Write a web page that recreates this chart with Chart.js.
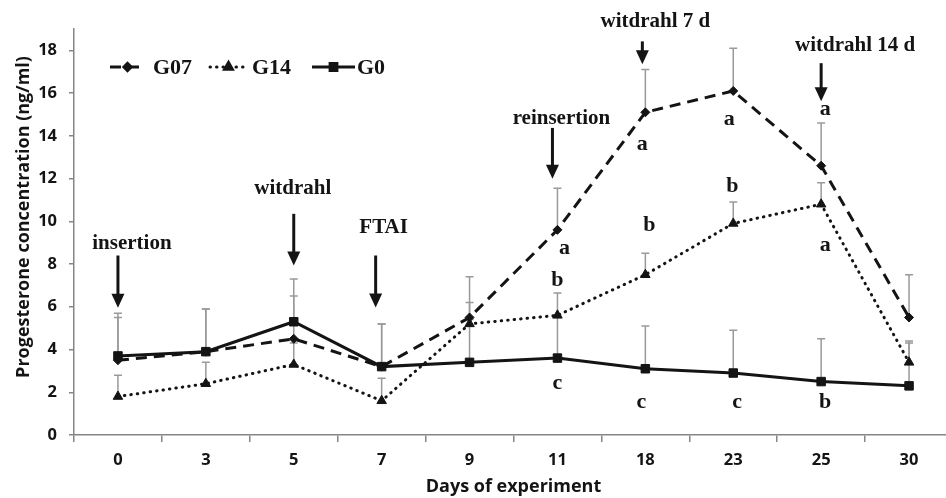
<!DOCTYPE html>
<html>
<head>
<meta charset="utf-8">
<script src="https://cdn.jsdelivr.net/npm/chart.js@4/dist/chart.umd.min.js"></script>
<style>
html,body{margin:0;padding:0;background:#fff;overflow:hidden;}
#wrap{width:960px;height:498px;position:relative;}
</style>
</head>
<body>
<div id="wrap"><canvas id="c" width="960" height="498"></canvas></div>
<script>
// ---- data ----
const days = ['0','3','5','7','9','11','18','23','25','30'];
const g07 = [3.5, 3.9, 4.5, 3.2, 5.5, 9.6, 15.1, 16.1, 12.6, 5.5];
const g07Err = [2.0, 2.0, 2.0, 2.0, 1.9, 1.95, 2.0, 2.0, 2.0, 2.0];
const g14 = [1.8, 2.4, 3.3, 1.6, 5.2, 5.6, 7.5, 9.9, 10.8, 3.4];
const g14Err = [1.0, 1.0, 1.0, 1.05, 1.0, 1.05, 1.0, 1.0, 1.0, 1.0];
const g0 = [3.7, 3.9, 5.3, 3.2, 3.4, 3.6, 3.1, 2.9, 2.5, 2.3];
const g0Err = [2.0, 2.0, 2.0, 2.0, 2.0, 2.0, 2.0, 2.0, 2.0, 2.0];
const seriesNames = ['G07', 'G14', 'G0'];
const yTicks = [0, 2, 4, 6, 8, 10, 12, 14, 16, 18];
const yTitle = 'Progesterone concentration (ng/ml)';
const xTitle = 'Days of experiment';

// event annotations: text, day, arrow top value, arrow tip value, text value
const eventText = ['insertion', 'witdrahl', 'FTAI', 'reinsertion', 'witdrahl 7 d', 'witdrahl 14 d'];
const eventDay = ['0', '5', '7', '11', '18', '25'];
const eventArrowTop = [8.4, 10.35, 8.4, 14.37, 18.42, 17.4];
const eventArrowTip = [5.95, 7.93, 5.97, 11.99, 17.35, 15.62];
const eventTextY = [8.96, 11.52, 9.7, 14.79, 19.36, 18.24];

// significance letters
const letterText = ['a', 'b', 'c', 'a', 'b', 'c', 'a', 'b', 'c', 'a', 'a', 'b'];
const letterDay = ['11', '11', '11', '18', '18', '18', '23', '23', '23', '25', '25', '25'];
const letterY = [8.72, 7.23, 2.43, 13.62, 9.79, 1.54, 14.79, 11.66, 1.54, 15.25, 8.86, 1.54];

// ---- styling (pixel tweaks) ----
const eventArrowDx = [0, 0, -6, -5, -3, 0];
const eventTextDx = [14, -1, 2, 4, 10, 34];
const letterDx = [7, 0, 0, -3, 4, -4, -4, -1, 4, 4, 4, 4];
const legendSampleX = [36, 136, 238];
const legendSampleW = [35, 37, 43];
const legendTextGap = [8, 5, 2];

const INK = '#141414';
const serif = '"Liberation Serif", "Times New Roman", serif';
const sans = '"Open Sans", "Noto Sans", sans-serif';

const errBars = {
  id: 'errBars',
  beforeDatasetsDraw(chart) {
    const ctx = chart.ctx, ys = chart.scales.y;
    const errs = [g07Err, g14Err, g0Err];
    ctx.save();
    ctx.strokeStyle = '#9a9a9a';
    ctx.lineWidth = 1.5;
    chart.data.datasets.forEach((ds, i) => {
      const meta = chart.getDatasetMeta(i);
      meta.data.forEach((pt, j) => {
        const top = ys.getPixelForValue(ds.data[j] + errs[i][j]);
        ctx.beginPath();
        ctx.moveTo(pt.x, pt.y);
        ctx.lineTo(pt.x, top);
        ctx.moveTo(pt.x - 4, top);
        ctx.lineTo(pt.x + 4, top);
        ctx.stroke();
      });
    });
    ctx.restore();
  }
};

const annot = {
  id: 'annot',
  afterDatasetsDraw(chart) {
    const ctx = chart.ctx, xs = chart.scales.x, ys = chart.scales.y;
    const ca = chart.chartArea;
    ctx.save();
    ctx.fillStyle = INK;
    ctx.strokeStyle = INK;
    ctx.textAlign = 'center';
    ctx.textBaseline = 'middle';
    // y axis title
    ctx.save();
    ctx.font = 'bold 18px ' + sans;
    ctx.translate(ca.left - 50, ca.top + (ca.bottom - ca.top) * 0.463);
    ctx.rotate(-Math.PI / 2);
    ctx.fillText(yTitle, 0, 0);
    ctx.restore();

    ctx.font = 'bold 21px ' + serif;
    eventText.forEach((t, i) => {
      const cx = xs.getPixelForValue(days.indexOf(eventDay[i]));
      const ax = cx + eventArrowDx[i];
      const yTop = ys.getPixelForValue(eventArrowTop[i]);
      const yTip = ys.getPixelForValue(eventArrowTip[i]);
      ctx.fillText(t, cx + eventTextDx[i], ys.getPixelForValue(eventTextY[i]));
      ctx.lineWidth = 3;
      ctx.beginPath();
      ctx.moveTo(ax, yTop);
      ctx.lineTo(ax, yTip - 10);
      ctx.stroke();
      ctx.beginPath();
      ctx.moveTo(ax - 6.5, yTip - 14);
      ctx.lineTo(ax + 6.5, yTip - 14);
      ctx.lineTo(ax, yTip);
      ctx.closePath();
      ctx.fill();
    });
    ctx.font = 'bold 22px ' + serif;
    letterText.forEach((t, i) => {
      const cx = xs.getPixelForValue(days.indexOf(letterDay[i]));
      ctx.fillText(t, cx + letterDx[i], ys.getPixelForValue(letterY[i]));
    });
    // legend
    const ly = 67;
    ctx.font = 'bold 22px ' + serif;
    ctx.textAlign = 'left';
    chart.data.datasets.forEach((ds, i) => {
      const lx = ca.left + legendSampleX[i];
      const w = legendSampleW[i];
      ctx.save();
      ctx.strokeStyle = INK;
      ctx.lineWidth = ds.borderWidth;
      ctx.lineCap = ds.borderCapStyle || 'butt';
      ctx.setLineDash(ds.borderDash || []);
      ctx.beginPath();
      ctx.moveTo(lx, ly);
      ctx.lineTo(lx + w, ly);
      ctx.stroke();
      ctx.setLineDash([]);
      ctx.fillStyle = INK;
      Chart.helpers.drawPoint(ctx, {pointStyle: ds.pointStyle, radius: ds.pointRadius * 0.8, rotation: 0, borderWidth: 1}, lx + w / 2, ly);
      ctx.restore();
      ctx.fillText(ds.label, lx + w + legendTextGap[i], ly + 1);
    });
    ctx.restore();
  }
};

new Chart(document.getElementById('c'), {
  type: 'line',
  data: {
    labels: days,
    datasets: [
      {label: seriesNames[0], data: g07, borderColor: INK, backgroundColor: INK, borderWidth: 3, borderDash: [11, 7],
       pointStyle: 'rectRot', pointRadius: 4.5, pointBorderWidth: 1, pointBackgroundColor: INK, pointBorderColor: INK, tension: 0},
      {label: seriesNames[1], data: g14, borderColor: INK, backgroundColor: INK, borderWidth: 3, borderDash: [0.5, 6], borderCapStyle: 'round',
       pointStyle: 'triangle', pointRadius: 5.5, pointBorderWidth: 1, pointBackgroundColor: INK, pointBorderColor: INK, tension: 0},
      {label: seriesNames[2], data: g0, borderColor: INK, backgroundColor: INK, borderWidth: 3,
       pointStyle: 'rect', pointRadius: 6, pointBorderWidth: 1, pointBackgroundColor: INK, pointBorderColor: INK, tension: 0}
    ]
  },
  options: {
    responsive: false,
    animation: false,
    layout: {padding: {left: 0, right: 4, top: 29, bottom: 0}},
    plugins: {legend: {display: false}, tooltip: {enabled: false}},
    scales: {
      x: {
        type: 'category',
        offset: true,
        grid: {display: true, offset: true, drawOnChartArea: false, drawTicks: true, tickLength: 7, color: '#868686', lineWidth: 1.5},
        border: {display: true, color: '#868686', width: 1.5},
        ticks: {color: INK, font: {family: sans, size: 16.5, weight: 'bold'}, padding: 8, maxRotation: 0},
        title: {display: true, text: xTitle, color: INK, font: {family: sans, size: 18, weight: 'bold'}, padding: {top: 0, bottom: 0}},
        afterFit(s) { s.height = 63; }
      },
      y: {
        min: 0, max: 19,
        afterBuildTicks(s) { s.ticks = yTicks.map(v => ({value: v})); },
        grid: {display: true, drawOnChartArea: false, drawTicks: true, tickLength: 5, color: '#868686', lineWidth: 1.5},
        border: {display: true, color: '#868686', width: 1.5},
        ticks: {color: INK, font: {family: sans, size: 16.5, weight: 'bold'}, padding: 12},
        title: {display: false},
        afterFit(s) { s.width = 74; }
      }
    }
  },
  plugins: [errBars, annot]
});
</script>
</body>
</html>
